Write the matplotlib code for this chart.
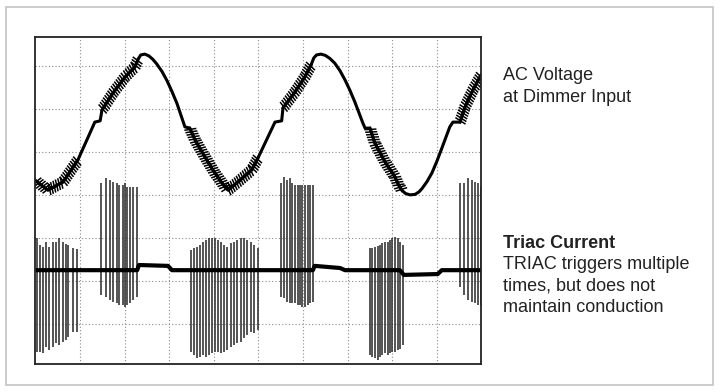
import numpy as np
import matplotlib.pyplot as plt
from matplotlib import patheffects
from matplotlib.patches import Rectangle

plt.rcParams['font.family'] = ['Liberation Sans', 'DejaVu Sans']

# Values, in grid divisions (x: 0-10, y: 0 = lowest full grid line)

# AC voltage at dimmer input (centre of the trace)
V_X = [0.00, 0.28, 0.62, 0.95, 1.18, 1.33, 1.45, 1.49, 1.74, 2.01, 2.23, 2.30, 2.36,
       2.45, 2.54, 2.63, 2.72, 2.84, 2.95, 3.06, 3.17, 3.35, 3.46, 3.58, 3.80, 4.02,
       4.25, 4.32, 4.54, 4.85, 4.99, 5.21, 5.37, 5.52, 5.55, 5.82, 6.04, 6.18, 6.24,
       6.30, 6.40, 6.50, 6.60, 6.71, 6.83, 6.94, 7.05, 7.16, 7.34, 7.39, 7.50, 7.61,
       7.84, 8.06, 8.14, 8.22, 8.30, 8.40, 8.51, 8.60, 8.67, 8.78, 8.89, 9.00, 9.11,
       9.29, 9.36, 9.52, 9.63, 9.81, 9.99]
V_Y = [3.33, 3.11, 3.30, 3.81, 4.34, 4.69, 4.72, 4.97, 5.37, 5.74, 5.97, 6.15, 6.25,
       6.27, 6.23, 6.15, 6.04, 5.86, 5.65, 5.40, 5.13, 4.58, 4.55, 4.27, 3.88, 3.51,
       3.18, 3.11, 3.30, 3.58, 3.86, 4.34, 4.69, 4.72, 5.02, 5.39, 5.74, 6.02, 6.18,
       6.25, 6.27, 6.24, 6.17, 6.06, 5.88, 5.67, 5.43, 5.16, 4.67, 4.55, 4.55, 4.20,
       3.76, 3.42, 3.23, 3.10, 3.03, 3.00, 3.01, 3.07, 3.15, 3.31, 3.51, 3.78, 4.08,
       4.58, 4.69, 4.69, 5.04, 5.44, 5.78]
# stretches where the voltage trace rings
NOISY_SPANS = [(0.0, 1.0), (1.47, 2.30), (3.46, 5.0), (5.53, 6.20), (7.50, 8.22), (9.52, 10.0)]

# triac current baseline
BASE_X = [0.00, 2.28, 2.32, 2.97, 3.06, 6.22, 6.26, 6.83, 6.94, 8.17, 8.26, 9.02, 9.11, 9.99]
BASE_Y = [1.25, 1.25, 1.37, 1.35, 1.25, 1.25, 1.35, 1.30, 1.25, 1.25, 1.14, 1.16, 1.25, 1.25]

# triac current spikes: position, top, bottom
BURST_X = [
    [0.03, 0.09, 0.16, 0.24, 0.31, 0.39, 0.46, 0.53, 0.61, 0.68, 0.74, 0.83, 0.92],
    [1.48, 1.58, 1.67, 1.74, 1.82, 1.88, 1.96, 2.01, 2.06, 2.12, 2.19, 2.27],
    [3.49, 3.55, 3.62, 3.69, 3.76, 3.82, 3.89, 3.96, 4.02, 4.09, 4.16, 4.23, 4.29,
     4.38, 4.45, 4.52, 4.60, 4.67, 4.75, 4.83, 4.90, 4.98],
    [5.50, 5.57, 5.63, 5.71, 5.76, 5.82, 5.88, 5.93, 5.98, 6.04, 6.10, 6.16, 6.22],
    [7.50, 7.55, 7.61, 7.67, 7.73, 7.78, 7.84, 7.90, 7.95, 8.00, 8.06, 8.12, 8.17, 8.23],
    [9.52, 9.61, 9.70, 9.78, 9.85, 9.93, 9.99],
]
BURST_TOP = [
    [2.00, 1.84, 1.79, 1.91, 1.79, 1.91, 1.91, 2.00, 1.91, 1.86, 1.84, 1.77, 1.74],
    [3.28, 3.39, 3.34, 3.30, 3.28, 3.23, 3.23, 3.28, 3.18, 3.18, 3.18, 3.18],
    [1.72, 1.77, 1.79, 1.84, 1.91, 1.95, 2.00, 2.00, 2.00, 1.95, 1.91, 1.84, 1.79,
     1.88, 1.91, 1.95, 2.00, 2.00, 1.95, 1.91, 1.84, 1.77],
    [3.28, 3.41, 3.34, 3.39, 3.28, 3.23, 3.23, 3.23, 3.23, 3.23, 3.23, 3.23, 3.23],
    [1.76, 1.76, 1.78, 1.81, 1.84, 1.87, 1.91, 1.91, 1.95, 1.99, 2.03, 1.99, 1.91, 1.84],
    [3.28, 3.28, 3.39, 3.34, 3.30, 3.28, 3.18],
]
BURST_BOT = [
    [-0.65, -0.65, -0.67, -0.53, -0.60, -0.53, -0.44, -0.49, -0.42, -0.37, -0.30, -0.19, -0.19],
    [0.67, 0.63, 0.56, 0.51, 0.49, 0.44, 0.44, 0.39, 0.44, 0.49, 0.56, 0.63],
    [-0.65, -0.72, -0.79, -0.77, -0.72, -0.77, -0.72, -0.67, -0.65, -0.65, -0.67, -0.65,
     -0.60, -0.53, -0.49, -0.44, -0.42, -0.33, -0.26, -0.19, -0.21, -0.14],
    [0.63, 0.60, 0.51, 0.49, 0.49, 0.49, 0.44, 0.44, 0.39, 0.39, 0.44, 0.49, 0.51],
    [-0.72, -0.76, -0.80, -0.84, -0.76, -0.72, -0.68, -0.72, -0.68, -0.64, -0.64, -0.60, -0.57, -0.49],
    [0.86, 0.67, 0.56, 0.51, 0.49, 0.44, 0.44],
]

fig = plt.figure(figsize=(7.2, 3.92), dpi=100)
fig.add_artist(Rectangle((0.0083, 0.018), 0.982, 0.9635, transform=fig.transFigure,
                         fill=False, edgecolor='#c4c4c4', linewidth=1.2))

ax = fig.add_axes([0.0493, 0.0714, 0.6194, 0.8334])
ax.set_xlim(0, 10)
ax.set_ylim(-0.93, 6.66)
ax.set_xticks(range(1, 10))
ax.set_yticks(range(0, 7))
ax.tick_params(length=0, labelbottom=False, labelleft=False)
ax.set_axisbelow(True)
ax.grid(True, color='#8a8a8a', linestyle=(0, (1, 2.0)), linewidth=0.8)
for s in ax.spines.values():
    s.set_linewidth(1.3)
    s.set_color('#222222')

# current
for xs, tops, bots in zip(BURST_X, BURST_TOP, BURST_BOT):
    ax.vlines(xs, bots, tops, color='#262626', linewidth=1.1)
ax.plot(BASE_X, BASE_Y, color='black', linewidth=3, solid_capstyle='butt')

# voltage
vx, vy = np.array(V_X), np.array(V_Y)
ax.plot(vx, vy, color='black', linewidth=2.2)
ripple = [patheffects.TickedStroke(spacing=1.9, angle=75, length=2.0, linewidth=1.1),
          patheffects.TickedStroke(spacing=1.9, angle=-105, length=2.0, linewidth=1.1),
          patheffects.Normal()]
for a, b in NOISY_SPANS:
    m = (vx >= a) & (vx <= b)
    ax.plot(vx[m], vy[m], color='black', linewidth=2.0, path_effects=ripple)

tx = 503 / 720
fig.text(tx, 1 - 80 / 392, 'AC Voltage', fontsize=13, color='#222222')
fig.text(tx, 1 - 102 / 392, 'at Dimmer Input', fontsize=13, color='#222222')
fig.text(tx, 1 - 247.5 / 392, 'Triac Current', fontsize=13, fontweight='bold', color='#222222')
fig.text(tx, 1 - 269 / 392, 'TRIAC triggers multiple', fontsize=13, color='#222222')
fig.text(tx, 1 - 290.5 / 392, 'times, but does not', fontsize=13, color='#222222')
fig.text(tx, 1 - 312 / 392, 'maintain conduction', fontsize=13, color='#222222')

fig.savefig('out.png', dpi=100)
